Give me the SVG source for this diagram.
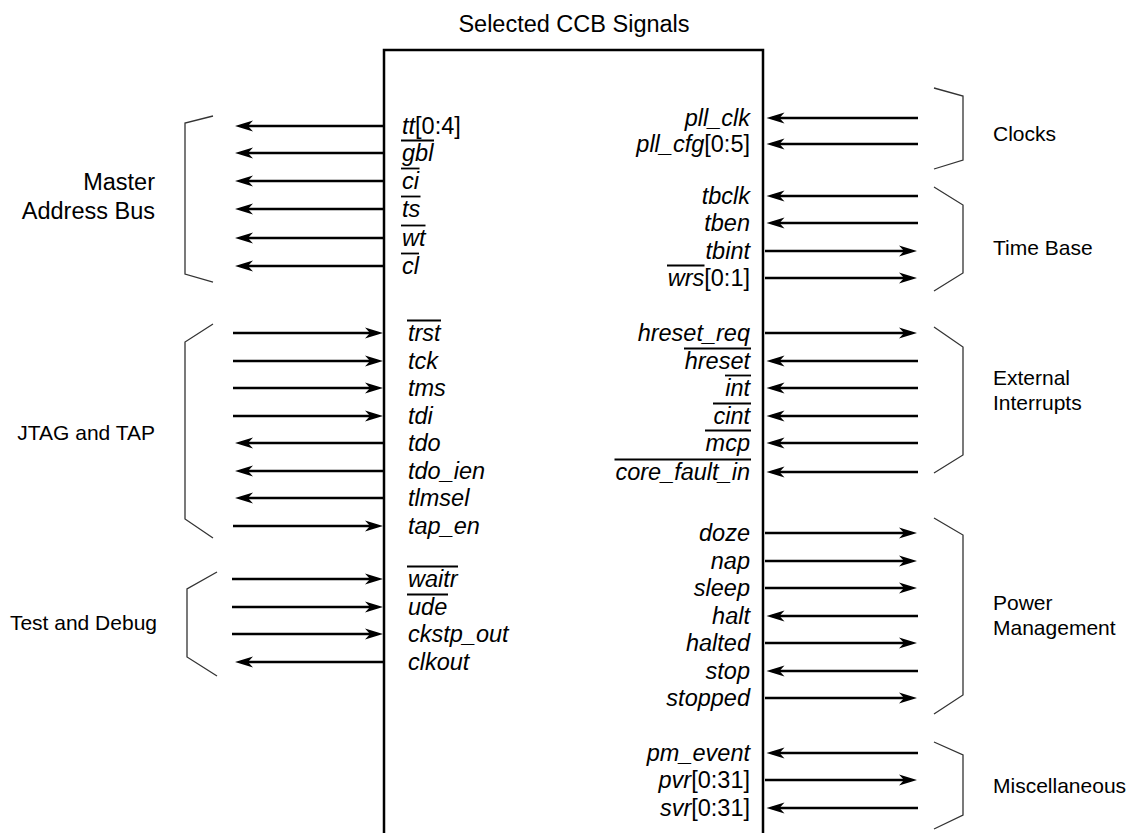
<svg xmlns="http://www.w3.org/2000/svg" width="1130" height="833" viewBox="0 0 1130 833">
<style>
text{font-family:"Liberation Sans",Arial,Helvetica,sans-serif;fill:#000}
.sig{font-style:italic;font-size:23.5px}
.n{font-style:normal}
.grp{font-size:21px}
.big{font-size:23.5px}
.r{text-anchor:end}
.c{text-anchor:middle}
.conn line{stroke:#000;stroke-width:2.5;marker-end:url(#arr)}
.bar{stroke:#000;stroke-width:1.8}
.brk{fill:none;stroke:#333;stroke-width:1.3}
</style>
<defs>
<marker id="arr" markerUnits="userSpaceOnUse" viewBox="-13 -7 20 14" markerWidth="20" markerHeight="14" refX="0" refY="0" orient="auto" overflow="visible">
<path d="M6,0 L-12,-5.5 L-7,0 L-12,5.5 Z" fill="#000"/>
</marker>
</defs>
<rect width="1130" height="833" fill="#fff"/>

<g id="ccb-block">
<text class="big c" x="574" y="32">Selected CCB Signals</text>
<path d="M384,833 V50 H763 V833" fill="none" stroke="#000" stroke-width="2.5"/>
</g>

<g id="connectors" class="conn">
<!-- Master Address Bus (outputs) -->
<line x1="384" y1="126" x2="241" y2="126"/>
<line x1="384" y1="153" x2="241" y2="153"/>
<line x1="384" y1="181" x2="241" y2="181"/>
<line x1="384" y1="209" x2="241" y2="209"/>
<line x1="384" y1="238" x2="241" y2="238"/>
<line x1="384" y1="266" x2="241" y2="266"/>
<!-- JTAG -->
<line x1="233" y1="333" x2="377" y2="333"/>
<line x1="233" y1="361" x2="377" y2="361"/>
<line x1="233" y1="388" x2="377" y2="388"/>
<line x1="233" y1="416" x2="377" y2="416"/>
<line x1="384" y1="443" x2="241" y2="443"/>
<line x1="384" y1="471" x2="241" y2="471"/>
<line x1="384" y1="498" x2="241" y2="498"/>
<line x1="233" y1="526" x2="377" y2="526"/>
<!-- Test and Debug -->
<line x1="232" y1="579" x2="377" y2="579"/>
<line x1="232" y1="607" x2="377" y2="607"/>
<line x1="232" y1="634" x2="377" y2="634"/>
<line x1="384" y1="662" x2="241" y2="662"/>
<!-- Clocks -->
<line x1="918" y1="118" x2="772.5" y2="118"/>
<line x1="918" y1="144" x2="772.5" y2="144"/>
<!-- Time Base -->
<line x1="918" y1="196" x2="772.5" y2="196"/>
<line x1="918" y1="223" x2="772.5" y2="223"/>
<line x1="765" y1="251" x2="911" y2="251"/>
<line x1="765" y1="278" x2="911" y2="278"/>
<!-- External Interrupts -->
<line x1="765" y1="333" x2="911" y2="333"/>
<line x1="918" y1="361" x2="772.5" y2="361"/>
<line x1="918" y1="388" x2="772.5" y2="388"/>
<line x1="918" y1="416" x2="772.5" y2="416"/>
<line x1="918" y1="443" x2="772.5" y2="443"/>
<line x1="918" y1="472" x2="772.5" y2="472"/>
<!-- Power Management -->
<line x1="765" y1="533" x2="911" y2="533"/>
<line x1="765" y1="561" x2="911" y2="561"/>
<line x1="765" y1="588" x2="911" y2="588"/>
<line x1="918" y1="616" x2="772.5" y2="616"/>
<line x1="765" y1="643" x2="911" y2="643"/>
<line x1="918" y1="671" x2="772.5" y2="671"/>
<line x1="765" y1="698" x2="911" y2="698"/>
<!-- Miscellaneous -->
<line x1="918" y1="753" x2="772.5" y2="753"/>
<line x1="765" y1="780" x2="911" y2="780"/>
<line x1="918" y1="808" x2="772.5" y2="808"/>
</g>

<g id="master-address-bus">
<polyline class="brk" points="213,116 185,123 185,274 213,282"/>
<text class="big r" x="155" y="190">Master</text>
<text class="big r" x="155" y="219">Address Bus</text>
<text class="sig" x="402" y="133.5">tt<tspan class="n">[0:4]</tspan></text>
<text class="sig" x="402" y="160.5">gbl</text>
<text class="sig" x="402" y="188.5">ci</text>
<text class="sig" x="402" y="216.5">ts</text>
<text class="sig" x="402" y="245.5">wt</text>
<text class="sig" x="402" y="273.5">cl</text>
<line class="bar" x1="401" y1="140.5" x2="434" y2="140.5"/>
<line class="bar" x1="401" y1="168.5" x2="419.5" y2="168.5"/>
<line class="bar" x1="401" y1="196.5" x2="420.5" y2="196.5"/>
<line class="bar" x1="401" y1="225.5" x2="425.5" y2="225.5"/>
<line class="bar" x1="401" y1="253.5" x2="419" y2="253.5"/>
</g>

<g id="jtag-and-tap">
<polyline class="brk" points="213,324 185,342 185,519 213,538"/>
<text class="grp r" x="155" y="440">JTAG and TAP</text>
<text class="sig" x="408" y="340.5">trst</text>
<text class="sig" x="408" y="368.5">tck</text>
<text class="sig" x="408" y="395.5">tms</text>
<text class="sig" x="408" y="423.5">tdi</text>
<text class="sig" x="408" y="450.5">tdo</text>
<text class="sig" x="408" y="478.5">tdo_ien</text>
<text class="sig" x="408" y="505.5">tlmsel</text>
<text class="sig" x="408" y="533.5">tap_en</text>
<line class="bar" x1="407" y1="320.5" x2="441" y2="320.5"/>
</g>

<g id="test-and-debug">
<polyline class="brk" points="217,572 187,589 187,657 217,676"/>
<text class="grp r" x="157" y="630">Test and Debug</text>
<text class="sig" x="408" y="586.5">waitr</text>
<text class="sig" x="408" y="614.5">ude</text>
<text class="sig" x="408" y="641.5">ckstp_out</text>
<text class="sig" x="408" y="669.5">clkout</text>
<line class="bar" x1="407" y1="566.5" x2="458" y2="566.5"/>
<line class="bar" x1="407" y1="594.5" x2="448" y2="594.5"/>
</g>

<g id="clocks">
<polyline class="brk" points="934,88 963,96 963,160 934,169"/>
<text class="grp" x="993" y="141">Clocks</text>
<text class="sig r" x="750" y="125.5">pll_clk</text>
<text class="sig r" x="750" y="151.5">pll_cfg<tspan class="n">[0:5]</tspan></text>
</g>

<g id="time-base">
<polyline class="brk" points="934,187 963,205 963,273 934,291"/>
<text class="grp" x="993" y="255">Time Base</text>
<text class="sig r" x="750" y="203.5">tbclk</text>
<text class="sig r" x="750" y="230.5">tben</text>
<text class="sig r" x="750" y="258.5">tbint</text>
<text class="sig r" x="750" y="285.5">wrs<tspan class="n">[0:1]</tspan></text>
<line class="bar" x1="667" y1="265.5" x2="704.5" y2="265.5"/>
</g>

<g id="external-interrupts">
<polyline class="brk" points="934,327 963,347 963,455 934,473"/>
<text class="grp" x="993" y="385">External</text>
<text class="grp" x="993" y="410">Interrupts</text>
<text class="sig r" x="750" y="340.5">hreset_req</text>
<text class="sig r" x="750" y="368.5">hreset</text>
<text class="sig r" x="750" y="395.5">int</text>
<text class="sig r" x="750" y="423.5">cint</text>
<text class="sig r" x="750" y="450.5">mcp</text>
<text class="sig r" x="750" y="479.5">core_fault_in</text>
<line class="bar" x1="684" y1="348.5" x2="751" y2="348.5"/>
<line class="bar" x1="725" y1="375.5" x2="751" y2="375.5"/>
<line class="bar" x1="713" y1="403.5" x2="751" y2="403.5"/>
<line class="bar" x1="705" y1="430.5" x2="751" y2="430.5"/>
<line class="bar" x1="614.5" y1="459.5" x2="751" y2="459.5"/>
</g>

<g id="power-management">
<polyline class="brk" points="934,518 963,535 963,695 934,714"/>
<text class="grp" x="993" y="610">Power</text>
<text class="grp" x="993" y="635">Management</text>
<text class="sig r" x="750" y="540.5">doze</text>
<text class="sig r" x="750" y="568.5">nap</text>
<text class="sig r" x="750" y="595.5">sleep</text>
<text class="sig r" x="750" y="623.5">halt</text>
<text class="sig r" x="750" y="650.5">halted</text>
<text class="sig r" x="750" y="678.5">stop</text>
<text class="sig r" x="750" y="705.5">stopped</text>
</g>

<g id="miscellaneous">
<polyline class="brk" points="934,742 963,755 963,815 934,829"/>
<text class="grp" x="993" y="793">Miscellaneous</text>
<text class="sig r" x="750" y="760.5">pm_event</text>
<text class="sig r" x="750" y="787.5">pvr<tspan class="n">[0:31]</tspan></text>
<text class="sig r" x="750" y="815.5">svr<tspan class="n">[0:31]</tspan></text>
</g>
</svg>
